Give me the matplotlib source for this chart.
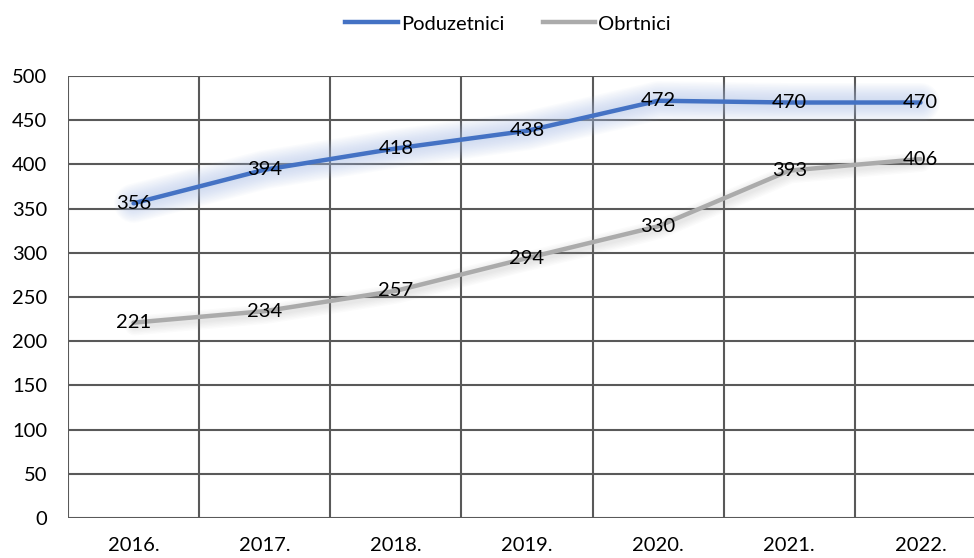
import numpy as np
import matplotlib.pyplot as plt
import matplotlib.transforms as mtransforms
from matplotlib.lines import Line2D

# --- dati ---
years = ['2016.', '2017.', '2018.', '2019.', '2020.', '2021.', '2022.']
poduzetnici = [356, 394, 418, 438, 472, 470, 470]
obrtnici = [221, 234, 257, 294, 330, 393, 406]
y_ticks = [0, 50, 100, 150, 200, 250, 300, 350, 400, 450, 500]

plt.rcParams['font.family'] = ['Lato', 'DejaVu Sans']

BLUE = '#4472C4'
GREY = '#ABABAB'
GRID = '#595959'
FS = 14.5

fig = plt.figure(figsize=(9.74, 5.58), dpi=100)
# l'area del grafico esce un po' a destra della figura (come nell'originale)
ax = fig.add_axes([68 / 974, 40 / 558, 918 / 974, 442 / 558])

x = np.arange(len(years))

# alone azzurro attorno alla linea blu (molti strati sottili = sfumatura morbida)
for w in np.linspace(28, 5, 12):
    ax.plot(x, poduzetnici, color='#A9C0E8', lw=w, alpha=0.05,
            solid_capstyle='round', solid_joinstyle='round', zorder=3)
ax.plot(x, poduzetnici, color=BLUE, lw=3.2, solid_capstyle='round', zorder=4)

# ombra leggera sotto la linea grigia
shift = ax.transData + mtransforms.ScaledTranslation(1 / 100, -3 / 100,
                                                     fig.dpi_scale_trans)
for w in np.linspace(14, 4, 6):
    ax.plot(x, obrtnici, color='#9A9A9A', lw=w, alpha=0.04,
            solid_capstyle='round', solid_joinstyle='round', zorder=3,
            transform=shift)
ax.plot(x, obrtnici, color=GREY, lw=3.2, solid_capstyle='round', zorder=4)

# etichette dei valori, centrate sui punti
for xi, v in zip(x, poduzetnici):
    ax.text(xi, v, str(v), ha='center', va='center', fontsize=FS, zorder=5)
for xi, v in zip(x, obrtnici):
    ax.text(xi, v, str(v), ha='center', va='center', fontsize=FS, zorder=5)

ax.set_xlim(-0.5, len(years) - 0.5)
ax.set_ylim(0, 500)
ax.set_yticks(y_ticks)
ax.set_xticks(x)
ax.set_xticklabels(years)

# griglia scura
for yv in y_ticks:
    ax.axhline(yv, color=GRID, lw=1.5, zorder=1)
for xv in np.arange(len(years) + 1) - 0.5:
    ax.axvline(xv, color=GRID, lw=1.5, zorder=1)

for s in ax.spines.values():
    s.set_visible(False)
ax.tick_params(which='both', length=0, labelsize=FS, colors='black')
ax.tick_params(axis='x', pad=14)
ax.tick_params(axis='y', pad=15)

handles = [Line2D([], [], color=BLUE, lw=3.2),
           Line2D([], [], color=GREY, lw=3.2)]
fig.legend(handles, ['Poduzetnici', 'Obrtnici'], loc='center',
           bbox_to_anchor=(508 / 974, 1 - 24 / 558), ncol=2, frameon=False,
           fontsize=FS, handlelength=2.6, handletextpad=0.15, columnspacing=1.9)

fig.savefig('out.png', dpi=100)
